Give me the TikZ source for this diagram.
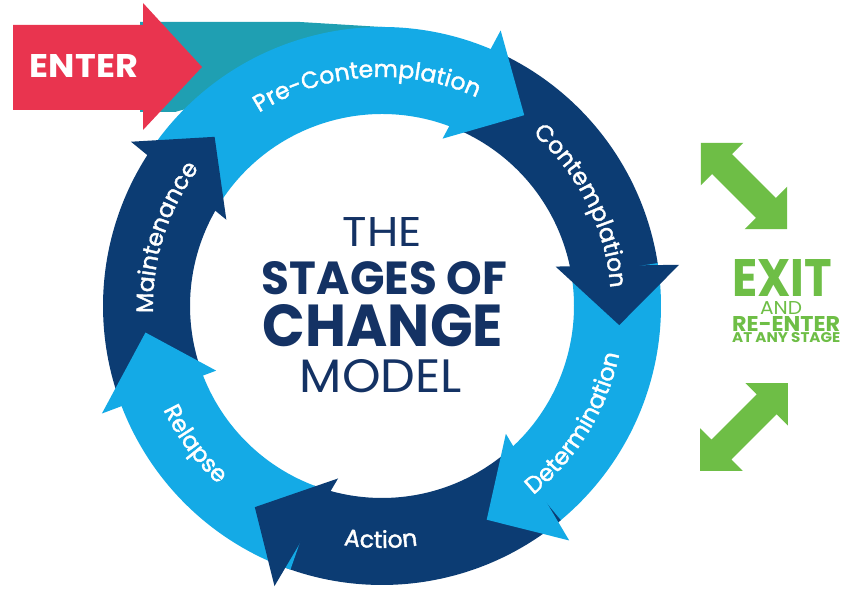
\documentclass[tikz,border=0pt]{standalone}
\usepackage{fontspec}
\setmainfont{Poppins}
\newfontfamily\lblfam{Poppins}[FakeBold=1.6]
\usepackage{graphicx}
\usetikzlibrary{decorations.text}
\definecolor{navy}{HTML}{0C3C73}
\definecolor{lblue}{HTML}{14AAE6}
\definecolor{tealc}{HTML}{1F9FB2}
\definecolor{enterred}{HTML}{E9344F}
\definecolor{titlenavy}{HTML}{143264}
\definecolor{exitgreen}{HTML}{6EBE46}
\newcommand{\ringband}[3]{\fill[#1] ({#2}:279) arc[start angle={#2}, end angle={#3}, radius=279] -- ({#3}:192) arc[start angle={#3}, end angle={#2}, radius=192] -- cycle;}
\newcommand{\ringhead}[4]{\fill[#1] ({#2}:178) -- ({#3}:300) -- ({#4}:238) -- cycle;}
\newcommand{\lblfont}{\lblfam\fontsize{23.5}{23.5}\selectfont\color{white}}
\newcommand{\cwlabel}[2]{\path[decorate, decoration={text along path, text align=center, text={|\lblfont|#2}}] ({#1+45}:229) arc[start angle={#1+45}, end angle={#1-45}, radius=229];}
\newcommand{\ccwlabel}[2]{\path[decorate, decoration={text along path, text align=center, text={|\lblfont|#2}}] ({#1-45}:242) arc[start angle={#1-45}, end angle={#1+45}, radius=242];}
\tikzset{
  ttl/.style={inner sep=0pt, text=titlenavy},
  grn/.style={inner sep=0pt, text=exitgreen},
  garrow/.style={fill=exitgreen},
}
\begin{document}
\begin{tikzpicture}[x=1pt, y=1pt]
\useasboundingbox (0,0) rectangle (841,594);
\fill[white] (0,0) rectangle (841,594);
% teal link from ENTER into the ring
\fill[tealc] (140,572) -- (300,572) -- (382,567) -- (382,540) -- (175,482) -- (140,482) -- cycle;
\begin{scope}[shift={(382,288)}]
  % bodies
  \ringband{lblue}{147.4}{65.4}
  \ringband{navy}{66.9}{7.35}
  \ringband{lblue}{8.85}{-51.65}
  \ringband{navy}{309.85}{249.35}
  \ringband{lblue}{250.85}{198.15}
  \ringband{navy}{199.65}{145.9}
  % heads
  \ringhead{lblue}{70.1}{66.7}{53.3}
  \ringhead{navy}{12.8}{7.9}{-4.6}
  \ringhead{lblue}{-45.9}{-51.4}{-63.9}
  \ringhead{navy}{255.7}{249}{237.7}
  \ringhead{lblue}{201.3}{201}{186.4}
  \ringhead{navy}{151}{146.8}{134.7}
  % labels
  \cwlabel{94}{Pre-Contemplation}
  \cwlabel{26.7}{Contemplation}
  \ccwlabel{-31.4}{Determination}
  \ccwlabel{269.7}{Action}
  \ccwlabel{216.4}{Relapse}
  \cwlabel{162.4}{Maintenance}
\end{scope}
% ENTER arrow
\fill[enterred] (13,569) -- (143,569) -- (143,591) -- (202,527) -- (143,464) -- (143,484) -- (13,484) -- cycle;
\node[inner sep=0pt, text=white, font=\bfseries] (enter) at (84,527.5) {\resizebox{108pt}{23pt}{ENTER}};
% title
\node[ttl] (the) at (382.5,361.5) {\resizebox{79pt}{29pt}{THE}};
\node[ttl, font=\bfseries] (stages) at (384.5,315.5) {\resizebox{245pt}{33pt}{STAGES OF}};
\node[ttl, font=\bfseries] (change) at (383,268) {\resizebox{240pt}{42pt}{CHANGE}};
\node[ttl] (model) at (381,217.5) {\resizebox{162pt}{33pt}{MODEL}};
% exit text
\node[grn, font=\bfseries, anchor=west] (exit) at (732,315.5) {\resizebox{100pt}{37pt}{EXIT}};
\node[grn] (and) at (781,285.5) {\resizebox{42pt}{13pt}{AND}};
\node[grn, font=\bfseries, anchor=west] (reenter) at (732,269.5) {\resizebox{108pt}{15pt}{RE-ENTER}};
\node[grn, font=\bfseries, anchor=west] (anystage) at (732,256) {\resizebox{108pt}{10pt}{AT ANY STAGE}};
% green double arrows
\begin{scope}[shift={(744,408)}, rotate=-45]
  \fill[garrow] (-61,0) -- (-31,30) -- (-31,14) -- (31,14) -- (31,30) -- (61,0) -- (31,-30) -- (31,-14) -- (-31,-14) -- (-31,-30) -- cycle;
\end{scope}
\begin{scope}[shift={(744,167)}, rotate=45]
  \fill[garrow] (-62,0) -- (-32,30) -- (-32,14) -- (32,14) -- (32,30) -- (62,0) -- (32,-30) -- (32,-14) -- (-32,-14) -- (-32,-30) -- cycle;
\end{scope}
\end{tikzpicture}
\end{document}
